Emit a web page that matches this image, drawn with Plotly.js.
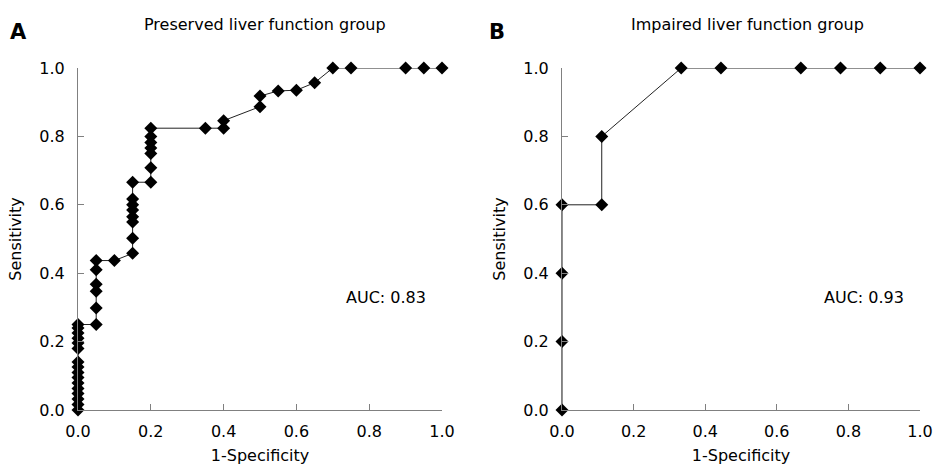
<!DOCTYPE html>
<html>
<head>
<meta charset="utf-8">
<script src="https://cdn.plot.ly/plotly-3.0.1.min.js"></script>
<style>html,body{margin:0;padding:0;background:#fff;}#chart{width:939px;height:465px;}</style>
</head>
<body>
<div id="chart"></div>
<script>
// Panel A: preserved liver function group (ROC points)
const fprA = [0,0,0,0,0,0,0,0,0,0,0,0,0,0,0,0,
  0.05,0.05,0.05,0.05,0.05,0.05,
  0.10,
  0.15,0.15,0.15,0.15,0.15,0.15,0.15,0.15,
  0.20,0.20,0.20,0.20,0.20,0.20,0.20,
  0.35,0.40,0.40,0.50,0.50,0.55,0.60,0.65,0.70,0.75,0.90,0.95,1.00];
const tprA = [0,0.016,0.032,0.048,0.063,0.079,0.095,0.11,0.126,0.14,0.18,0.196,0.21,0.225,0.24,0.25,
  0.25,0.298,0.347,0.368,0.41,0.437,
  0.437,
  0.458,0.502,0.55,0.565,0.585,0.60,0.617,0.666,
  0.666,0.708,0.75,0.766,0.782,0.80,0.824,
  0.824,0.824,0.846,0.887,0.918,0.933,0.935,0.957,1,1,1,1,1];
// Panel B: impaired liver function group
const fprB = [0,0,0,0,0.111,0.111,0.333,0.444,0.667,0.778,0.889,1.0];
const tprB = [0,0.2,0.4,0.6,0.6,0.8,1,1,1,1,1,1];
const titles = ["Preserved liver function group","Impaired liver function group"];
const panelLetters = ["A","B"];
const aucLabels = ["AUC: 0.83","AUC: 0.93"];
const tickVals = [0,0.2,0.4,0.6,0.8,1.0];
const tickText = ["0.0","0.2","0.4","0.6","0.8","1.0"];

const FONT = "DejaVu Sans, Verdana, sans-serif";
const mk = {symbol:"diamond", size:10, color:"#000"};
const ln = {color:"#222", width:1};

const traces = [
  {x:fprA, y:tprA, type:"scatter", mode:"lines+markers", marker:mk, line:ln, cliponaxis:false, xaxis:"x", yaxis:"y", hoverinfo:"x+y"},
  {x:fprB, y:tprB, type:"scatter", mode:"lines+markers", marker:mk, line:ln, cliponaxis:false, xaxis:"x2", yaxis:"y2", hoverinfo:"x+y"}
];

function xax(domain, anchor){
  return {domain:domain, anchor:anchor, range:[0,1], tickvals:tickVals, ticktext:tickText,
    ticks:"inside", ticklen:6, tickcolor:"#808080", showline:true, linecolor:"#808080", linewidth:1,
    ticklabelstandoff:7,
    showgrid:false, zeroline:false, tickfont:{family:FONT, size:16, color:"#000"},
    title:{text:"1-Specificity", font:{family:FONT, size:16, color:"#000"}, standoff:11}, fixedrange:true};
}
function yax(anchor){
  return {domain:[55/465, 397/465], anchor:anchor, range:[0,1], tickvals:tickVals, ticktext:tickText,
    ticks:"inside", ticklen:6, tickcolor:"#808080", showline:true, linecolor:"#808080", linewidth:1,
    ticklabelstandoff:9,
    showgrid:false, zeroline:false, tickfont:{family:FONT, size:16, color:"#000"},
    title:{text:"Sensitivity", font:{family:FONT, size:16, color:"#000"}, standoff:13}, fixedrange:true};
}

const W = 939, H = 465;
function px(x){ return x / W; }
function py(y){ return 1 - y / H; }

const annotations = [
  {text:panelLetters[0], xref:"paper", yref:"paper", x:px(18), y:py(32), xanchor:"center", yanchor:"middle", showarrow:false, font:{family:FONT, size:21, color:"#000", weight:"bold"}},
  {text:panelLetters[1], xref:"paper", yref:"paper", x:px(497), y:py(32), xanchor:"center", yanchor:"middle", showarrow:false, font:{family:FONT, size:21, color:"#000", weight:"bold"}},
  {text:titles[0], xref:"paper", yref:"paper", x:px(264.5), y:py(25), xanchor:"center", yanchor:"middle", showarrow:false, font:{family:FONT, size:16, color:"#000"}},
  {text:titles[1], xref:"paper", yref:"paper", x:px(747), y:py(25), xanchor:"center", yanchor:"middle", showarrow:false, font:{family:FONT, size:16, color:"#000"}},
  {text:aucLabels[0], xref:"paper", yref:"paper", x:px(386), y:py(297), xanchor:"center", yanchor:"middle", showarrow:false, font:{family:FONT, size:16, color:"#000"}},
  {text:aucLabels[1], xref:"paper", yref:"paper", x:px(864), y:py(297), xanchor:"center", yanchor:"middle", showarrow:false, font:{family:FONT, size:16, color:"#000"}}
];

const layout = {
  width:W, height:H, showlegend:false,
  margin:{l:0, r:0, t:0, b:0, pad:0},
  paper_bgcolor:"#fff", plot_bgcolor:"#fff",
  xaxis: xax([78/W, 442/W], "y"),
  yaxis: yax("x"),
  xaxis2: xax([562/W, 920/W], "y2"),
  yaxis2: yax("x2"),
  annotations: annotations,
  font:{family:FONT, color:"#000"}
};

Plotly.newPlot("chart", traces, layout, {displayModeBar:false, staticPlot:true});
</script>
</body>
</html>
